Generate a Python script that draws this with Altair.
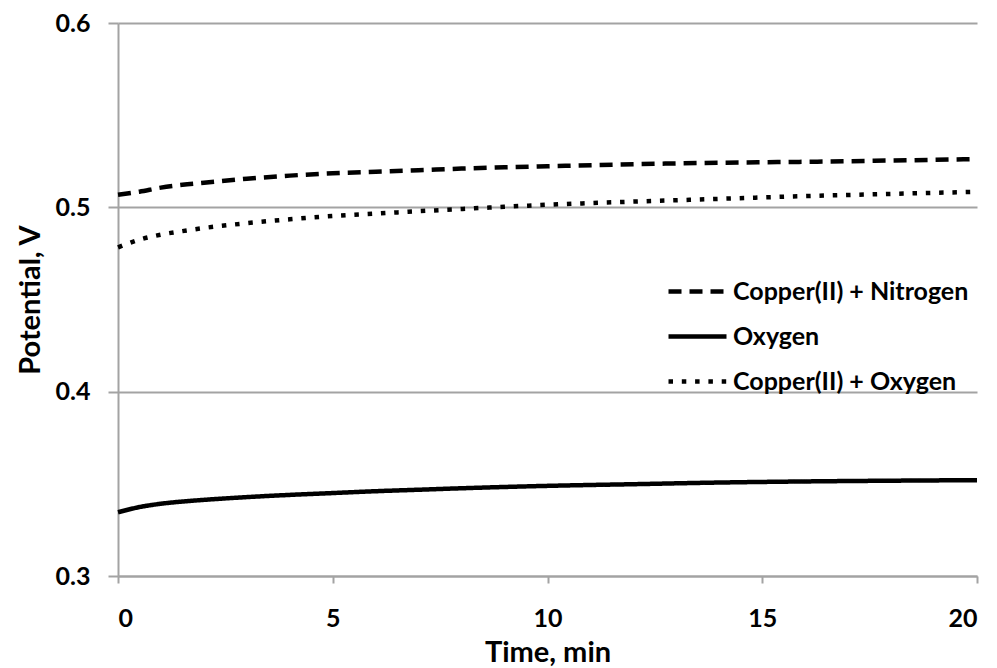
import altair as alt
import pandas as pd

times = [0, 0.5, 1, 1.5, 2, 3, 4, 5, 6, 7, 8, 9, 10, 12, 14, 16, 18, 20]
cu_n2 = [0.5068, 0.5085, 0.5107, 0.5122, 0.5133, 0.5155, 0.5172, 0.5185, 0.5193,
         0.5201, 0.5210, 0.5217, 0.5223, 0.5234, 0.5242, 0.5247, 0.5254, 0.5262]
oxygen = [0.3346, 0.3374, 0.3392, 0.3404, 0.3413, 0.3428, 0.3440, 0.3450, 0.3460,
          0.3468, 0.3476, 0.3483, 0.3489, 0.3498, 0.3507, 0.3513, 0.3517, 0.3520]
cu_o2 = [0.4783, 0.4825, 0.4852, 0.4871, 0.4888, 0.4914, 0.4935, 0.4953, 0.4966,
         0.4979, 0.4991, 0.5003, 0.5014, 0.5031, 0.5046, 0.5061, 0.5073, 0.5084]
series = ["Copper(II) + Nitrogen", "Oxygen", "Copper(II) + Oxygen"]
x_ticks = [0, 5, 10, 15, 20]
y_ticks = [0.3, 0.4, 0.5, 0.6]

rows = []
for name, vals in zip(series, [cu_n2, oxygen, cu_o2]):
    for t, v in zip(times, vals):
        rows.append({"Time": t, "Potential": v, "Series": name})
df = pd.DataFrame(rows)

GRAY = "#a3a3a3"

chart = alt.Chart(df).mark_line(
    color="black", strokeWidth=4.5, interpolate="monotone"
).encode(
    x=alt.X("Time:Q",
            scale=alt.Scale(domain=[0, 20], nice=False, zero=False),
            axis=alt.Axis(title="Time, min", values=x_ticks, grid=False,
                          tickSize=7, labelPadding=23, titlePadding=7,
                          format="d")),
    y=alt.Y("Potential:Q",
            scale=alt.Scale(domain=[0.3, 0.6], nice=False, zero=False),
            axis=alt.Axis(title="Potential, V", values=y_ticks, grid=True,
                          tickSize=10, labelPadding=18, titlePadding=10,
                          format=".1f")),
    strokeDash=alt.StrokeDash(
        "Series:N",
        scale=alt.Scale(domain=series, range=[[13, 8], [1, 0], [4.5, 8.8]]),
        legend=alt.Legend(
            title=None, orient="none", legendX=548, legendY=237,
            symbolType="stroke", symbolSize=3364, symbolStrokeWidth=4.5,
            symbolStrokeColor="black", labelFontSize=25, labelFont="Lato",
            labelFontWeight="bold", labelColor="black", labelOffset=4,
            labelLimit=400, rowPadding=-44,
        ),
    ),
    order=alt.Order("Time:Q"),
).properties(
    width=859, height=553,
    autosize=alt.AutoSizeParams(type="none"),
    padding={"left": 118, "top": 23, "right": 20, "bottom": 92},
).configure_view(
    stroke=None
).configure_axis(
    labelFont="Lato", labelFontWeight="bold", labelFontSize=25, labelColor="black",
    titleFont="Lato", titleFontWeight="bold", titleFontSize=29, titleColor="black",
    domainColor=GRAY, domainWidth=2, tickColor=GRAY, tickWidth=2,
    gridColor=GRAY, gridWidth=2,
)

chart.save("out.html", embed_options={"renderer": "svg", "actions": False})
